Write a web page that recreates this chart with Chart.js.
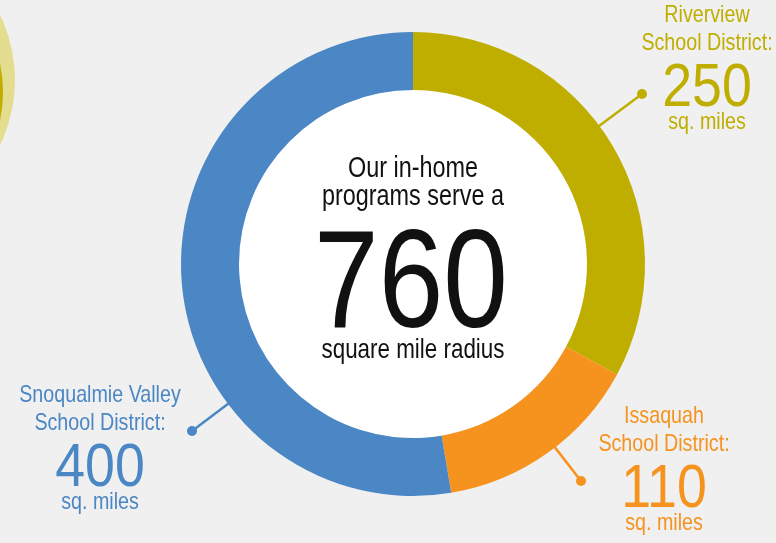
<!DOCTYPE html>
<html lang="en">
<head>
    <meta charset="UTF-8">
    <script src="https://cdn.jsdelivr.net/npm/chart.js"></script>
    <title>760 square mile radius</title>
    <style>
        html, body { margin: 0; padding: 0; background: #f0f0f0; }
        canvas { display: block; }
    </style>
</head>
<body>
<canvas id="areaChart" width="776" height="543"></canvas>
<script>
    // dados
    const districts = ['Riverview School District', 'Issaquah School District', 'Snoqualmie Valley School District'];
    const sqMiles = [250, 110, 400];
    const colors = ['#bfae00', '#f6921e', '#4b86c5'];
    const labelLines = [['Riverview', 'School District:'], ['Issaquah', 'School District:'], ['Snoqualmie Valley', 'School District:']];
    const unitText = 'sq. miles';
    const centerLines = ['Our in-home', 'programs serve a', 'square mile radius'];

    const FONT = "'Liberation Sans', Arial, sans-serif";

    // where the callouts sit (text center x, first baseline, dot)
    const callouts = [
        { x: 707, y: 22, dot: [642, 94] },
        { x: 664, y: 423, dot: [581, 481] },
        { x: 100, y: 402, dot: [192, 431] }
    ];

    // texto "condensado" (sem fonte narrow instalada)
    function narrowText(ctx, text, x, y, size, sx) {
        ctx.save();
        ctx.font = size + 'px ' + FONT;
        ctx.translate(x, y);
        ctx.scale(sx, 1);
        ctx.fillText(text, 0, 0);
        ctx.restore();
    }

    const decoPlugin = {
        id: 'deco',
        beforeDraw(chart) {
            const ctx = chart.ctx;
            ctx.save();
            // pedaço do circulo da esquerda
            ctx.fillStyle = '#e4dc8e';
            ctx.beginPath();
            ctx.arc(-133, 80, 148, 0, Math.PI * 2);
            ctx.fill();
            ctx.fillStyle = '#bfae00';
            ctx.beginPath();
            ctx.arc(-133, 92, 136, 0, Math.PI * 2);
            ctx.fill();
            ctx.restore();
        },
        beforeDatasetsDraw(chart) {
            const arc = chart.getDatasetMeta(0).data[0];
            const ctx = chart.ctx;
            ctx.save();
            ctx.fillStyle = '#ffffff';
            ctx.beginPath();
            ctx.arc(arc.x, arc.y, arc.innerRadius, 0, Math.PI * 2);
            ctx.fill();
            ctx.restore();
        },
        afterDraw(chart) {
            const ctx = chart.ctx;
            const meta = chart.getDatasetMeta(0);
            const cx = meta.data[0].x, cy = meta.data[0].y;
            const outer = meta.data[0].outerRadius;
            ctx.save();
            ctx.textAlign = 'center';
            ctx.textBaseline = 'alphabetic';

            // textos do meio
            ctx.fillStyle = '#111111';
            narrowText(ctx, centerLines[0], cx, 177, 30, 0.78);
            narrowText(ctx, centerLines[1], cx, 205, 30, 0.78);
            const total = sqMiles.reduce((a, b) => a + b, 0);
            narrowText(ctx, String(total), cx - 2, 327, 140, 0.83);
            narrowText(ctx, centerLines[2], cx, 358, 28, 0.8);

            // callouts
            for (let i = 0; i < sqMiles.length; i++) {
                const c = callouts[i];
                const dx = c.dot[0] - cx, dy = c.dot[1] - cy;
                const d = Math.sqrt(dx * dx + dy * dy);
                const sx = cx + dx / d * (outer - 2), sy = cy + dy / d * (outer - 2);
                ctx.strokeStyle = colors[i];
                ctx.lineWidth = 2.5;
                ctx.beginPath();
                ctx.moveTo(sx, sy);
                ctx.lineTo(c.dot[0], c.dot[1]);
                ctx.stroke();
                ctx.fillStyle = colors[i];
                ctx.beginPath();
                ctx.arc(c.dot[0], c.dot[1], 5, 0, Math.PI * 2);
                ctx.fill();

                narrowText(ctx, labelLines[i][0], c.x, c.y, 24, 0.82);
                narrowText(ctx, labelLines[i][1], c.x, c.y + 28, 24, 0.82);
                narrowText(ctx, String(sqMiles[i]), c.x, c.y + 84, 61, 0.88);
                narrowText(ctx, unitText, c.x, c.y + 107, 24, 0.82);
            }
            ctx.restore();
        }
    };

    const ctx = document.getElementById('areaChart').getContext('2d');
    const chart = new Chart(ctx, {
        type: 'doughnut',
        data: {
            labels: districts,
            datasets: [{
                data: sqMiles,
                backgroundColor: colors,
                borderWidth: 0
            }]
        },
        options: {
            responsive: false,
            animation: false,
            cutout: '75%',
            layout: {
                padding: { top: 32, bottom: 47, left: 181, right: 131 }
            },
            plugins: {
                legend: { display: false },
                tooltip: { enabled: false }
            }
        },
        plugins: [decoPlugin]
    });
</script>
</body>
</html>
